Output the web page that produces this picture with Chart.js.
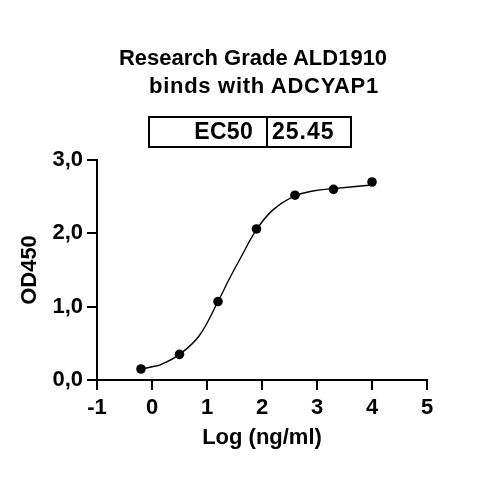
<!DOCTYPE html>
<html>
<head>
<meta charset="utf-8">
<title>ALD1910 binds with ADCYAP1</title>
<script src="https://cdn.jsdelivr.net/npm/chart.js@4"></script>
<style>
  html, body { margin: 0; padding: 0; background: #fff; }
  #wrap { position: relative; width: 500px; height: 500px; font-family: "Liberation Sans", Arial, sans-serif; font-weight: bold; color: #000; }
  #wrap canvas { position: absolute; left: 0; top: 0; }
  .ttl { position: absolute; font-size: 22px; line-height: 22px; text-align: center; white-space: nowrap; }
  .box { position: absolute; left: 148px; top: 116px; width: 204px; height: 32px; border: 2px solid #000; box-sizing: border-box; }
  .div { position: absolute; left: 266px; top: 116px; width: 2px; height: 32px; background: #000; }
  .cell { position: absolute; top: 120px; font-size: 23px; line-height: 23px; white-space: nowrap; }
</style>
</head>
<body>
<div id="wrap">
  <canvas id="chart" width="500" height="500"></canvas>
  <div class="ttl" style="left:0;width:506px;top:47px">Research Grade ALD1910</div>
  <div class="ttl" style="left:14px;width:500px;top:75px;letter-spacing:0.7px">binds with ADCYAP1</div>
  <div class="box"></div>
  <div class="div"></div>
  <div class="cell" style="right:247px;letter-spacing:0.3px">EC50</div>
  <div class="cell" style="left:272px;letter-spacing:1px">25.45</div>
</div>
<script>
// measured points: log concentration vs OD450
const logConc = [-0.2, 0.5, 1.2, 1.9, 2.6, 3.3, 4.0];
const od450 = [0.15, 0.35, 1.07, 2.06, 2.52, 2.60, 2.70];

// fitted curve
const fitX = [-0.2, 0.0, 0.16, 0.5, 0.855, 1.2, 1.4, 1.6, 1.9, 2.2, 2.6, 2.95, 3.3, 4.0];
const fitY = [0.15, 0.18, 0.21, 0.35, 0.60, 1.07, 1.37, 1.65, 2.05, 2.32, 2.51, 2.58, 2.61, 2.66];

const yTickLabels = ["0,0", "1,0", "2,0", "3,0"];

const FONT = "'Liberation Sans', Arial, sans-serif";
const tickFont = { family: FONT, size: 22, weight: "bold" };

new Chart(document.getElementById("chart").getContext("2d"), {
  type: "scatter",
  data: {
    datasets: [
      {
        label: "OD450",
        data: logConc.map((x, i) => ({ x, y: od450[i] })),
        backgroundColor: "#000",
        borderColor: "#000",
        borderWidth: 0,
        pointRadius: 4.8,
        showLine: false,
        order: 0
      },
      {
        label: "fit",
        data: fitX.map((x, i) => ({ x, y: fitY[i] })),
        showLine: true,
        borderColor: "#000",
        borderWidth: 1.4,
        pointRadius: 0,
        tension: 0.4,
        fill: false,
        order: 1
      }
    ]
  },
  options: {
    responsive: false,
    animation: false,
    layout: { padding: { left: 0, right: 73, top: 160, bottom: 0 } },
    plugins: { legend: { display: false }, tooltip: { enabled: false } },
    scales: {
      x: {
        type: "linear",
        min: -1, max: 5,
        ticks: { stepSize: 1, color: "#000", font: tickFont, padding: 5, maxRotation: 0 },
        grid: { drawOnChartArea: false, drawTicks: true, tickLength: 10, lineWidth: 2, color: "#000" },
        border: { color: "#000", width: 2 },
        title: { display: true, text: "Log (ng/ml)", color: "#000", font: tickFont, padding: { top: 0, bottom: 49 } },
        afterFit(s) { s.height = 120; }
      },
      y: {
        type: "linear",
        min: 0, max: 3,
        ticks: { stepSize: 1, color: "#000", font: tickFont, padding: 4, callback: (v) => yTickLabels[v] },
        grid: { drawOnChartArea: false, drawTicks: true, tickLength: 10, lineWidth: 2, color: "#000" },
        border: { color: "#000", width: 2 },
        title: { display: true, text: "OD450", color: "#000", font: tickFont, padding: { top: 17, bottom: 0 } },
        afterFit(s) { s.width = 97; }
      }
    }
  }
});
</script>
</body>
</html>
